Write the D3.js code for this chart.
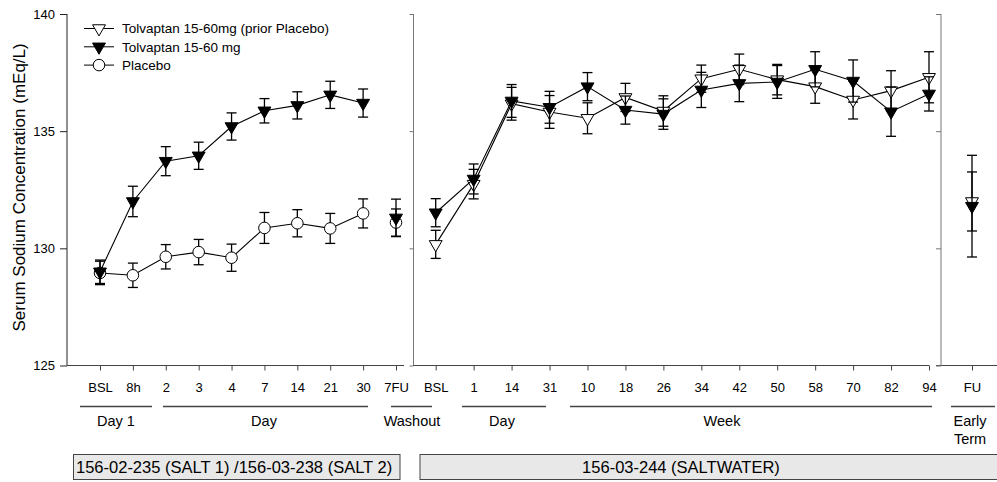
<!DOCTYPE html>
<html>
<head>
<meta charset="utf-8">
<script src="https://cdn.jsdelivr.net/npm/d3@7"></script>
<style>
  body { margin: 0; background: #fff; }
  svg { display: block; font-family: "Liberation Sans", Arial, sans-serif; }
  .tick text { font-size: 13px; fill: #000; }
</style>
</head>
<body>
<svg id="chart" width="997" height="482"></svg>
<script>
"use strict";

// SALT 1/2 period
const leftLabels = ["BSL", "8h", "2", "3", "4", "7", "14", "21", "30"];
const tolvLeft = [129.0, 132.0, 133.72, 133.95, 135.2, 135.87, 136.1, 136.55, 136.2];
const tolvLeftErr = [0.5, 0.65, 0.62, 0.58, 0.58, 0.52, 0.58, 0.58, 0.6];
const placeboLeft = [128.95, 128.85, 129.64, 129.84, 129.6, 130.87, 131.07, 130.85, 131.49];
const placeboLeftErr = [0.5, 0.52, 0.52, 0.54, 0.58, 0.66, 0.58, 0.64, 0.62];

// washout follow-up (7FU)
const washoutLabel = "7FU";
const washoutTolv = 131.3, washoutTolvErr = 0.8;
const washoutPlacebo = 131.1, washoutPlaceboErr = 0.58;

// SALTWATER period
const midLabels = ["BSL", "1", "14", "31", "10", "18", "26", "34", "42", "50", "58", "70", "82", "94"];
const tolvMid = [131.52, 132.96, 136.29, 136.02, 136.9, 135.9, 135.73, 136.76, 137.04, 137.1, 137.64, 137.14, 135.83, 136.59];
const tolvMidErr = [0.6, 0.64, 0.7, 0.68, 0.6, 0.6, 0.65, 0.75, 0.78, 0.7, 0.75, 0.9, 1.05, 0.73];
const priorPlacMid = [130.17, 132.74, 136.17, 135.82, 135.55, 136.44, 135.86, 137.24, 137.64, 137.2, 136.9, 136.33, 136.73, 137.3];
const priorPlacMidErr = [0.6, 0.63, 0.7, 0.7, 0.66, 0.6, 0.65, 0.58, 0.65, 0.65, 0.71, 0.81, 0.85, 1.09];

// early termination follow-up
const earlyLabels = ["FU"];
const earlyTolv = 131.8, earlyTolvErr = 2.17;
const earlyPrior = 132.0, earlyPriorErr = 1.26;

const yTicks = [125, 130, 135, 140];
const legendNames = ["Tolvaptan 15-60mg (prior Placebo)", "Tolvaptan 15-60 mg", "Placebo"];

const svg = d3.select("#chart");
const y = d3.scaleLinear().domain([125, 140]).range([365.5, 14]);

const xLeft = d3.scalePoint().domain([...leftLabels, washoutLabel]).range([100, 396]);
const xMid = d3.scalePoint().domain(midLabels).range([435.7, 929]);
const xEarly = d3.scalePoint().domain(earlyLabels).range([972, 972]);

// ---- axes ----
function xAxis(scale, x0, x1) {
  const g = svg.append("g").attr("transform", `translate(0,${y(125)})`);
  g.call(d3.axisBottom(scale).tickSize(5).tickPadding(12).tickSizeOuter(0));
  g.select(".domain").remove();
  g.selectAll(".tick line").attr("stroke", "#444");
  g.append("line").attr("x1", x0).attr("x2", x1).attr("stroke", "#444");
}
function yAxis(x0, size, labels, color) {
  const g = svg.append("g").attr("transform", `translate(${x0},0)`);
  g.call(d3.axisLeft(y).tickValues(yTicks).tickSize(size).tickPadding(5)
    .tickFormat(labels ? d3.format("d") : ""));
  g.select(".domain").attr("d", `M0,${y(140)}V${y(125)}`).attr("stroke", color);
  g.selectAll(".tick line").attr("stroke", color);
}

xAxis(xLeft, 67, 404);
xAxis(xMid, 413, 929);
xAxis(xEarly, 936, 997);
yAxis(67, 7, true, "#222");
yAxis(413.5, 4, false, "#777");
yAxis(941, 5, false, "#777");

svg.append("text")
  .attr("transform", `translate(25,${y(132.6)}) rotate(-90)`)
  .attr("text-anchor", "middle")
  .attr("font-size", 17)
  .text("Serum Sodium Concentration (mEq/L)");

// ---- series ----
const triDown = d3.symbol(d3.symbolTriangle, 72)();
const circ = d3.symbol(d3.symbolCircle, 105)();

function errBars(pts) {
  const g = svg.append("g").attr("stroke", "#000").attr("stroke-width", 1.3);
  g.selectAll("line.v").data(pts).join("line")
    .attr("x1", d => d.x).attr("x2", d => d.x)
    .attr("y1", d => y(d.v - d.e)).attr("y2", d => y(d.v + d.e));
  g.selectAll("line.c").data(pts.flatMap(d => [d.v - d.e, d.v + d.e].map(v => ({ x: d.x, v }))))
    .join("line")
    .attr("x1", d => d.x - 5).attr("x2", d => d.x + 5)
    .attr("y1", d => y(d.v)).attr("y2", d => y(d.v));
}
function lineOf(pts) {
  svg.append("path")
    .attr("d", d3.line().x(d => d.x).y(d => y(d.v))(pts))
    .attr("fill", "none").attr("stroke", "#000").attr("stroke-width", 1.1);
}
function marks(pts, kind) {
  svg.append("g").selectAll("path").data(pts).join("path")
    .attr("d", kind === "circle" ? circ : triDown)
    .attr("transform", d => `translate(${d.x},${y(d.v)})` + (kind === "circle" ? "" : " rotate(180)"))
    .attr("fill", kind === "filled" ? "#000" : "#fff")
    .attr("stroke", "#000").attr("stroke-width", 1);
}
function pts(scale, labels, vals, errs) {
  return labels.map((l, i) => ({ x: scale(l), v: vals[i], e: errs[i] }));
}
function series(main, extra, kind) {
  errBars([...main, ...extra]);
  lineOf(main);
  marks([...main, ...extra], kind);
}

series(pts(xLeft, leftLabels, placeboLeft, placeboLeftErr),
  [{ x: xLeft(washoutLabel), v: washoutPlacebo, e: washoutPlaceboErr }], "circle");
series(pts(xLeft, leftLabels, tolvLeft, tolvLeftErr),
  [{ x: xLeft(washoutLabel), v: washoutTolv, e: washoutTolvErr }], "filled");
series(pts(xMid, midLabels, priorPlacMid, priorPlacMidErr),
  [{ x: xEarly("FU"), v: earlyPrior, e: earlyPriorErr }], "open");
series(pts(xMid, midLabels, tolvMid, tolvMidErr),
  [{ x: xEarly("FU"), v: earlyTolv, e: earlyTolvErr }], "filled");

// ---- legend ----
const legend = svg.append("g").selectAll("g").data(legendNames).join("g")
  .attr("transform", (d, i) => `translate(0,${28.5 + i * 18.3})`);
legend.append("line").attr("x1", 84).attr("x2", 114).attr("stroke", "#000");
legend.append("path")
  .attr("d", (d, i) => i === 2 ? circ : triDown)
  .attr("transform", (d, i) => `translate(99,0)` + (i === 2 ? "" : " rotate(180)"))
  .attr("fill", (d, i) => i === 1 ? "#000" : "#fff")
  .attr("stroke", "#000");
legend.append("text").attr("x", 122).attr("dy", "0.35em").attr("font-size", 13.5).text(d => d);

// ---- period groupings ----
const groups = [
  { name: ["Day 1"], x0: 80, x1: 152, cx: 116 },
  { name: ["Day"], x0: 163, x1: 368, cx: 264 },
  { name: ["Washout"], x0: 391, x1: 432, cx: 412 },
  { name: ["Day"], x0: 462, x1: 546, cx: 502 },
  { name: ["Week"], x0: 570, x1: 932, cx: 722 },
  { name: ["Early", "Term"], x0: 951, x1: 995, cx: 970 }
];
const grp = svg.append("g").selectAll("g").data(groups).join("g");
grp.append("line")
  .attr("x1", d => d.x0).attr("x2", d => d.x1).attr("y1", 406.5).attr("y2", 406.5)
  .attr("stroke", "#444").attr("stroke-width", 1.3);
grp.append("text")
  .attr("text-anchor", "middle").attr("font-size", 14.5)
  .selectAll("tspan").data(d => d.name.map(n => ({ n, cx: d.cx }))).join("tspan")
  .attr("x", d => d.cx).attr("y", (d, i) => 426 + i * 17.5)
  .text(d => d.n);

// ---- study boxes ----
const studies = [
  { name: "156-02-235 (SALT 1) /156-03-238 (SALT 2)", x0: 73.5, x1: 400, anchor: "start", tx: 76 },
  { name: "156-03-244 (SALTWATER)", x0: 420, x1: 1010, anchor: "middle", tx: 681 }
];
const box = svg.append("g").selectAll("g").data(studies).join("g");
box.append("rect")
  .attr("x", d => d.x0).attr("y", 454.5).attr("width", d => d.x1 - d.x0).attr("height", 25)
  .attr("fill", "#e8e8e8").attr("stroke", "#444");
box.append("text")
  .attr("x", d => d.tx).attr("y", 473).attr("text-anchor", d => d.anchor)
  .attr("font-size", 16.5).text(d => d.name);
</script>
</body>
</html>
